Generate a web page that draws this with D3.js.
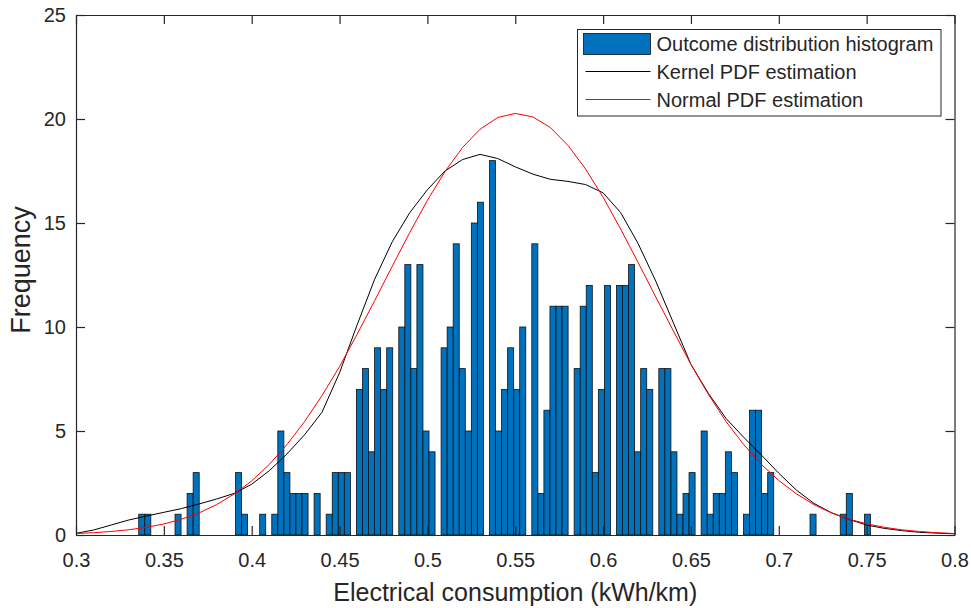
<!DOCTYPE html>
<html>
<head>
<meta charset="utf-8">
<script src="https://cdn.jsdelivr.net/npm/d3@7"></script>
<style>
body { margin: 0; background: #fff; }
svg text { font-family: "Liberation Sans", Arial, Helvetica, sans-serif; fill: #262626; }
</style>
</head>
<body>
<svg id="chart"></svg>
<script>
// histogram: left edge of the first bin, bin width, counts per bin
const binStart = 0.3357;
const binWidth = 0.003442;
const binCounts = [
    1, 1, 0, 0, 0, 0, 1, 0, 2, 3,
    0, 0, 0, 0, 0, 0, 3, 1, 0, 0,
    1, 0, 1, 5, 3, 2, 2, 2, 0, 2,
    0, 1, 3, 3, 3, 0, 7, 8, 4, 9,
    7, 9, 0, 10, 13, 8, 13, 5, 4, 0,
    9, 10, 14, 8, 5, 15, 16, 0, 18, 5,
    7, 9, 7, 10, 0, 14, 2, 6, 11, 11,
    11, 0, 8, 11, 12, 3, 7, 12, 0, 12,
    12, 13, 4, 8, 7, 0, 8, 8, 4, 1,
    2, 3, 0, 5, 1, 2, 2, 4, 3, 0,
    1, 6, 6, 2, 3, 0, 0, 0, 0, 0,
    0, 1, 0, 0, 0, 0, 1, 2, 0, 0, 1
];

// pdf curves (scaled to counts)
const curveX = [
    0.30, 0.31, 0.32, 0.33, 0.34, 0.35, 0.36, 0.37, 0.38, 0.39,
    0.40, 0.41, 0.42, 0.43, 0.44, 0.45, 0.46, 0.47, 0.48, 0.49,
    0.50, 0.51, 0.52, 0.53, 0.54, 0.55, 0.56, 0.57, 0.58, 0.59,
    0.60, 0.61, 0.62, 0.63, 0.64, 0.65, 0.66, 0.67, 0.68, 0.69,
    0.70, 0.71, 0.72, 0.73, 0.74, 0.75, 0.76, 0.77, 0.78, 0.79, 0.80
];
const kernelPdf = [
    0.08, 0.24, 0.48, 0.72, 0.91, 1.09, 1.27, 1.49, 1.73, 2.00,
    2.44, 3.09, 3.89, 4.81, 5.90, 7.80, 10.1, 12.3, 14.1, 15.5,
    16.6, 17.5, 18.05, 18.3, 18.1, 17.7, 17.35, 17.1, 17.0, 16.85,
    16.45, 15.5, 14.0, 12.2, 10.2, 8.2, 6.8, 5.6, 4.7, 3.85,
    2.97, 2.16, 1.52, 1.07, 0.75, 0.48, 0.32, 0.21, 0.13, 0.09, 0.06
];
const normalPdf = [
    0.07, 0.11, 0.17, 0.25, 0.37, 0.53, 0.76, 1.06, 1.46, 1.97,
    2.60, 3.39, 4.34, 5.44, 6.70, 8.10, 9.65, 11.27, 12.92, 14.55,
    16.09, 17.47, 18.63, 19.51, 20.07, 20.27, 20.10, 19.59, 18.73, 17.60,
    16.24, 14.71, 13.09, 11.44, 9.81, 8.20, 6.75, 5.45, 4.35, 3.40,
    2.62, 1.98, 1.46, 1.06, 0.76, 0.54, 0.37, 0.25, 0.17, 0.11, 0.07
];

const xTicks = [0.3, 0.35, 0.4, 0.45, 0.5, 0.55, 0.6, 0.65, 0.7, 0.75, 0.8];
const yTicks = [0, 5, 10, 15, 20, 25];
const legendLabels = ['Outcome distribution histogram', 'Kernel PDF estimation', 'Normal PDF estimation'];

class HistChart {
    constructor (config) {
        this.config = {
            parent: config.parent,
            width: config.width || 971,
            height: config.height || 608,
            margin: config.margin || {top: 15, right: 16.5, bottom: 73, left: 76},
            xlabel: config.xlabel || '',
            ylabel: config.ylabel || ''
        };
        this.init();
    }

    init() {
        let self = this;

        self.svg = d3.select(self.config.parent)
            .attr('width', self.config.width)
            .attr('height', self.config.height);

        self.chart = self.svg.append('g')
            .attr('transform', `translate(${self.config.margin.left}, ${self.config.margin.top})`);

        self.inner_width = self.config.width - self.config.margin.left - self.config.margin.right;
        self.inner_height = self.config.height - self.config.margin.top - self.config.margin.bottom;

        self.xscale = d3.scaleLinear()
            .domain([0.3, 0.8])
            .range([0, self.inner_width]);

        self.yscale = d3.scaleLinear()
            .domain([0, 25])
            .range([self.inner_height, 0]);
    }

    render() {
        let self = this;
        const tick = 9;

        // bars
        const bins = binCounts.map((c, i) => ({x0: binStart + i * binWidth, count: c}));
        self.chart.selectAll('.bar')
            .data(bins.filter(d => d.count > 0))
            .join('rect')
            .attr('class', 'bar')
            .attr('x', d => self.xscale(d.x0))
            .attr('width', d => self.xscale(d.x0 + binWidth) - self.xscale(d.x0))
            .attr('y', d => self.yscale(d.count))
            .attr('height', d => self.inner_height - self.yscale(d.count))
            .attr('fill', '#0072BD')
            .attr('stroke', '#111')
            .attr('stroke-width', 0.8);

        // pdf lines
        const line = d3.line()
            .x(d => self.xscale(d[0]))
            .y(d => self.yscale(d[1]));

        self.chart.append('path')
            .datum(curveX.map((x, i) => [x, kernelPdf[i]]))
            .attr('d', line)
            .attr('fill', 'none')
            .attr('stroke', '#000')
            .attr('stroke-width', 1);

        self.chart.append('path')
            .datum(curveX.map((x, i) => [x, normalPdf[i]]))
            .attr('d', line)
            .attr('fill', 'none')
            .attr('stroke', '#ff0000')
            .attr('stroke-width', 1);

        // axes, ticks pointing inward, box on all sides
        const xaxis = d3.axisBottom(self.xscale)
            .tickValues(xTicks)
            .tickFormat(d3.format(''))
            .tickSizeInner(-tick).tickSizeOuter(0).tickPadding(18);
        const xaxis_top = d3.axisTop(self.xscale)
            .tickValues(xTicks).tickFormat('')
            .tickSizeInner(-tick).tickSizeOuter(0);
        const yaxis = d3.axisLeft(self.yscale)
            .tickValues(yTicks)
            .tickSizeInner(-tick).tickSizeOuter(0).tickPadding(10);
        const yaxis_right = d3.axisRight(self.yscale)
            .tickValues(yTicks).tickFormat('')
            .tickSizeInner(-tick).tickSizeOuter(0);

        const groups = [
            self.chart.append('g').attr('transform', `translate(0, ${self.inner_height})`).call(xaxis),
            self.chart.append('g').call(xaxis_top),
            self.chart.append('g').call(yaxis),
            self.chart.append('g').attr('transform', `translate(${self.inner_width}, 0)`).call(yaxis_right)
        ];
        groups.forEach(g => {
            g.selectAll('path, line').attr('stroke', '#262626').attr('stroke-width', 1.2);
            g.selectAll('text').style('font-size', '20px').attr('fill', '#262626');
        });

        // axis labels
        self.svg.append('text')
            .style('font-size', '25px')
            .attr('x', self.config.margin.left + self.inner_width / 2)
            .attr('y', 601)
            .attr('text-anchor', 'middle')
            .text(self.config.xlabel);

        self.svg.append('text')
            .style('font-size', '27px')
            .attr('transform', `translate(30, ${self.config.margin.top + self.inner_height / 2 - 5}) rotate(-90)`)
            .attr('text-anchor', 'middle')
            .text(self.config.ylabel);

        // legend
        const legend = self.svg.append('g')
            .attr('transform', 'translate(577.5, 29.5)');
        legend.append('rect')
            .attr('width', 363.5)
            .attr('height', 86.5)
            .attr('fill', '#fff')
            .attr('stroke', '#262626')
            .attr('stroke-width', 1);

        const rows = [14.5, 42, 70];
        legend.append('rect')
            .attr('x', 6).attr('y', rows[0] - 10.5)
            .attr('width', 67).attr('height', 21)
            .attr('fill', '#0072BD')
            .attr('stroke', '#111')
            .attr('stroke-width', 0.8);
        legend.append('line')
            .attr('x1', 8).attr('x2', 73)
            .attr('y1', rows[1]).attr('y2', rows[1])
            .attr('stroke', '#000');
        legend.append('line')
            .attr('x1', 8).attr('x2', 73)
            .attr('y1', rows[2]).attr('y2', rows[2])
            .attr('stroke', '#ff0000');

        legend.selectAll('.label')
            .data(legendLabels)
            .join('text')
            .attr('class', 'label')
            .attr('x', 79)
            .attr('y', (d, i) => rows[i])
            .attr('dy', '0.35em')
            .style('font-size', '20px')
            .text(d => d);
    }
}

const chart = new HistChart({
    parent: '#chart',
    width: 971,
    height: 608,
    xlabel: 'Electrical consumption (kWh/km)',
    ylabel: 'Frequency'
});
chart.render();
</script>
</body>
</html>
